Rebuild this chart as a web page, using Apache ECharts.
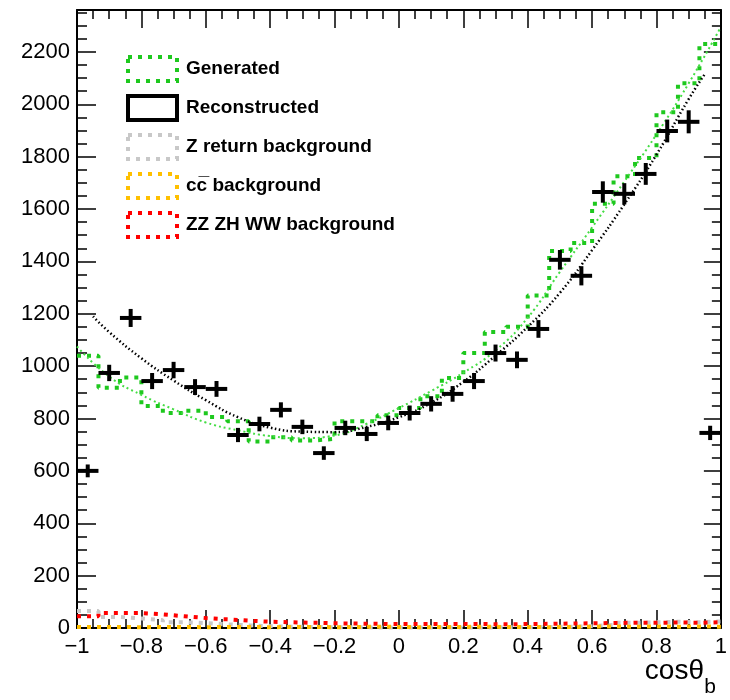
<!DOCTYPE html>
<html>
<head>
<meta charset="utf-8">
<script src="https://cdn.jsdelivr.net/npm/echarts@6.0.0/dist/echarts.min.js"></script>
<style>
    html, body { margin: 0; padding: 0; background: #fff; }
    #main { width: 730px; height: 700px; }
</style>
</head>
<body>
<div id="main"></div>
<script>
    // 30 bins on cos(theta_b) in [-1, 1]
    var xMin = -1, xMax = 1, nBins = 30;

    // histogram contents, one value per bin
    var generated     = [1040, 917, 957, 848, 821, 830, 806, 790, 712, 728, 716, 722, 790, 790, 812,
                         840, 885, 955, 1050, 1130, 1150, 1270, 1440, 1470, 1620, 1725, 1795, 1970, 2080, 2230];
    var reconstructed = [600, 974, 1184, 943, 985, 920, 913, 737, 779, 833, 768, 668, 764, 741, 783,
                         821, 856, 894, 943, 1050, 1024, 1142, 1406, 1345, 1665, 1658, 1734, 1898, 1933, 745];
    var zReturnBkg    = [65, 42, 36, 30, 22, 19, 14, 10, 7, 5, 4, 3, 3, 2, 2,
                         2, 2, 2, 2, 3, 3, 4, 5, 7, 12, 20, 22, 24, 22, 25];
    var ccBkg         = [4, 4, 3, 4, 4, 3, 4, 4, 3, 4, 4, 3, 4, 5, 4,
                         3, 4, 4, 5, 4, 4, 3, 4, 5, 6, 5, 6, 5, 6, 5];
    var zzzhwwBkg     = [45, 57, 57, 52, 45, 38, 33, 28, 24, 22, 20, 18, 17, 16, 15,
                         15, 15, 15, 15, 14, 15, 16, 17, 18, 19, 20, 20, 21, 20, 22];

    // fitted curves, sampled
    var genFitX   = [-1, -0.9, -0.8, -0.7, -0.6, -0.5, -0.4, -0.3, -0.2, -0.1, 0, 0.1, 0.2, 0.3, 0.4, 0.5, 0.6, 0.7, 0.8, 0.9, 1];
    var genFitY   = [1075, 960, 890, 835, 785, 755, 733, 725, 735, 780, 840, 905, 975, 1060, 1185, 1360, 1530, 1705, 1885, 2080, 2295];
    var recoFitX  = [-0.95, -0.9, -0.8, -0.7, -0.6, -0.5, -0.4, -0.3, -0.2, -0.1, 0, 0.1, 0.2, 0.3, 0.4, 0.5, 0.6, 0.7, 0.8, 0.9, 0.95];
    var recoFitY  = [1190, 1130, 1030, 945, 870, 805, 765, 750, 748, 768, 805, 860, 940, 1040, 1150, 1280, 1443, 1618, 1808, 2020, 2115];

    var yTicks = { min: 0, max: 2360, interval: 200 };
    var xTicks = { min: -1, max: 1, interval: 0.2 };

    var binW = (xMax - xMin) / nBins;
    var font = 'Liberation Sans, Arial, Helvetica, sans-serif';

    function stepData(vals){ // left edges + closing point, drawn with step:'end'
        var out = [];
        for (var i = 0; i < vals.length; i++) {
            out.push([xMin + i * binW, vals[i]]);
        }
        out.push([xMax, vals[vals.length - 1]]);
        return out;
    }
    function centerData(vals){
        return vals.map(function (v, i) { return [xMin + (i + 0.5) * binW, v]; });
    }
    function pairs(xs, ys){
        return xs.map(function (x, i) { return [x, ys[i]]; });
    }
    function histSeries(name, vals, color, z){
        return {
            name: name,
            type: 'line',
            step: 'end',
            showSymbol: false,
            symbol: 'none',
            z: z,
            lineStyle: { color: color, width: 4, type: [4, 6], cap: 'butt' },
            itemStyle: { color: color },
            data: stepData(vals)
        };
    }
    function xLabel(v){
        var r = Math.round(v * 10) / 10;
        if (r === 0) return '0';
        return (r < 0 ? '\u2212' : '') + Math.abs(r);
    }
    function yLabel(v){
        return String(Math.round(v));
    }
    function legendItem(name, color, dash){
        return {
            name: name,
            icon: 'rect',
            itemStyle: { color: 'transparent', borderColor: color, borderWidth: 4, borderType: dash }
        };
    }

    var tickStyle = { color: '#000', width: 1.5 };

    var option = {
        animation: false,
        backgroundColor: '#fff',
        textStyle: { fontFamily: font },
        grid: { left: 77, right: 4, top: 10, bottom: 72, containLabel: false },
        title: [
            { text: 'cos\u03b8', right: 21, top: 652, textStyle: { fontFamily: font, fontSize: 28, fontWeight: 'normal', color: '#000' } },
            { text: 'b', right: 9, top: 672, textStyle: { fontFamily: font, fontSize: 21, fontWeight: 'normal', color: '#000' } }
        ],
        legend: {
            orient: 'vertical',
            left: 121,
            top: 50,
            itemWidth: 49,
            itemHeight: 24,
            itemGap: 11,
            textStyle: { fontFamily: font, fontSize: 19, fontWeight: 'bold', color: '#000', padding: [0, 0, 0, 4] },
            data: [
                legendItem('Generated', '#1ec81e', [4, 6]),
                legendItem('Reconstructed', '#000', 'solid'),
                legendItem('Z return background', '#c8c8c8', [4, 6]),
                legendItem('cc\u0305 background', '#ffc000', [4, 6]),
                legendItem('ZZ ZH WW background', '#ff0000', [4, 6])
            ]
        },
        xAxis: [{
            type: 'value',
            position: 'bottom',
            min: xTicks.min, max: xTicks.max, interval: xTicks.interval,
            axisLine: { onZero: false, lineStyle: { color: '#000', width: 2 } },
            axisTick: { inside: true, length: 18, lineStyle: tickStyle },
            minorTick: { show: true, splitNumber: 4, length: 9, lineStyle: tickStyle },
            splitLine: { show: false },
            axisLabel: { color: '#000', fontSize: 22, fontFamily: font, margin: 8, formatter: xLabel }
        }, {
            type: 'value',
            position: 'top',
            min: xTicks.min, max: xTicks.max, interval: xTicks.interval,
            axisLine: { onZero: false, lineStyle: { color: '#000', width: 2 } },
            axisTick: { inside: true, length: 18, lineStyle: tickStyle },
            minorTick: { show: true, splitNumber: 4, length: 9, lineStyle: tickStyle },
            splitLine: { show: false },
            axisLabel: { show: false }
        }],
        yAxis: [{
            type: 'value',
            position: 'left',
            min: yTicks.min, max: yTicks.max, interval: yTicks.interval,
            axisLine: { show: true, onZero: false, lineStyle: { color: '#000', width: 2 } },
            axisTick: { show: true, inside: true, length: 19, lineStyle: tickStyle },
            minorTick: { show: true, splitNumber: 4, length: 10, lineStyle: tickStyle },
            splitLine: { show: false },
            axisLabel: { color: '#000', fontSize: 22, fontFamily: font, margin: 7, showMaxLabel: false, formatter: yLabel }
        }, {
            type: 'value',
            position: 'right',
            min: yTicks.min, max: yTicks.max, interval: yTicks.interval,
            axisLine: { show: true, onZero: false, lineStyle: { color: '#000', width: 2 } },
            axisTick: { show: true, inside: true, length: 17, lineStyle: tickStyle },
            minorTick: { show: true, splitNumber: 4, length: 9, lineStyle: tickStyle },
            splitLine: { show: false },
            axisLabel: { show: false }
        }],
        series: [
            histSeries('Generated', generated, '#1ec81e', 2),
            {
                name: 'Generated fit',
                type: 'line',
                smooth: true,
                showSymbol: false,
                symbol: 'none',
                z: 3,
                lineStyle: { color: '#44dd44', width: 2, type: [2, 3] },
                data: pairs(genFitX, genFitY)
            },
            {
                name: 'Reconstructed',
                type: 'custom',
                z: 5,
                itemStyle: { color: '#000' },
                renderItem: function (params, api) {
                    var x = api.value(0), y = api.value(1);
                    var e = Math.sqrt(y);  // poisson error bar
                    var l = api.coord([x - binW / 2, y]), r = api.coord([x + binW / 2, y]);
                    var t = api.coord([x, y + e]), b = api.coord([x, y - e]);
                    var st = { stroke: '#000', lineWidth: 4 };
                    return {
                        type: 'group',
                        children: [
                            { type: 'line', shape: { x1: l[0], y1: l[1], x2: r[0], y2: r[1] }, style: st },
                            { type: 'line', shape: { x1: t[0], y1: t[1], x2: b[0], y2: b[1] }, style: st }
                        ]
                    };
                },
                data: centerData(reconstructed)
            },
            {
                name: 'Reconstructed fit',
                type: 'line',
                smooth: true,
                showSymbol: false,
                symbol: 'none',
                z: 4,
                lineStyle: { color: '#000', width: 2.5, type: [1.5, 2.5] },
                data: pairs(recoFitX, recoFitY)
            },
            histSeries('Z return background', zReturnBkg, '#c8c8c8', 6),
            histSeries('ZZ ZH WW background', zzzhwwBkg, '#ff0000', 7),
            histSeries('cc\u0305 background', ccBkg, '#ffc000', 8)
        ]
    };

    echarts.init(document.getElementById('main')).setOption(option);
</script>
</body>
</html>
